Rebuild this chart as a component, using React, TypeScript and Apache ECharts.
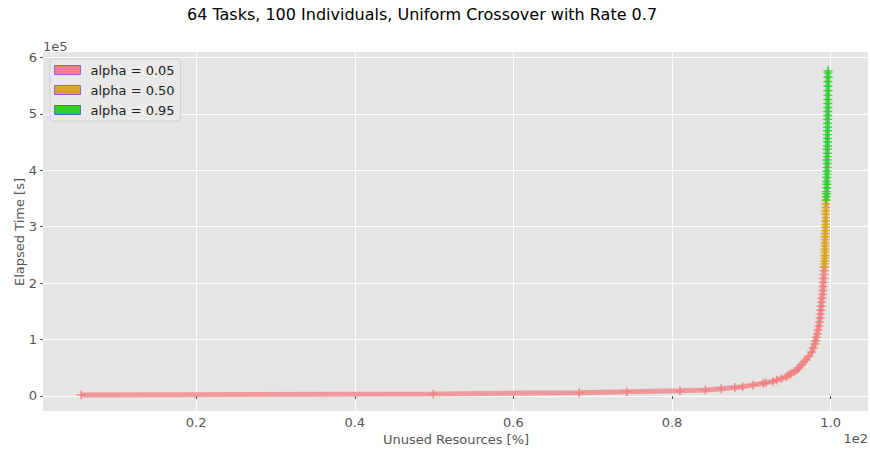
import React, { useEffect, useRef } from "react";
import * as echarts from "echarts";

const TITLE = "64 Tasks, 100 Individuals, Uniform Crossover with Rate 0.7";
const X_LABEL = "Unused Resources [%]";
const Y_LABEL = "Elapsed Time [s]";
const X_TICKS = [0.2, 0.4, 0.6, 0.8, 1.0];
const Y_TICKS = [0, 1, 2, 3, 4, 5, 6];
const SERIES_NAMES = ["alpha = 0.05", "alpha = 0.50", "alpha = 0.95"];
const SERIES_COLORS = ["#F08080", "#DAA520", "#32CD32"];
const LEGEND_EDGES = ["#9A5FCF", "#9A5FCF", "#4A6FD0"];

// values in units of 1e2 (x) and 1e5 (y), as displayed
const pinkX = [0.055, 0.499, 0.683, 0.743, 0.810, 0.842, 0.862, 0.879, 0.889, 0.902, 0.915, 0.918, 0.927, 0.932, 0.938, 0.944, 0.947, 0.950, 0.954, 0.957, 0.960, 0.963, 0.966, 0.969, 0.972, 0.976, 0.978, 0.980, 0.981, 0.982, 0.983, 0.984, 0.985, 0.986, 0.9865, 0.987, 0.9875, 0.988, 0.9885, 0.989, 0.9895, 0.990, 0.9903, 0.9906, 0.991, 0.9913, 0.9916, 0.992];
const pinkY = [0.018, 0.035, 0.058, 0.076, 0.094, 0.106, 0.13, 0.15, 0.165, 0.195, 0.225, 0.235, 0.254, 0.284, 0.31, 0.34, 0.37, 0.40, 0.43, 0.46, 0.50, 0.55, 0.60, 0.64, 0.70, 0.78, 0.85, 0.92, 0.98, 1.04, 1.10, 1.17, 1.24, 1.31, 1.38, 1.45, 1.52, 1.59, 1.66, 1.73, 1.80, 1.87, 1.94, 2.01, 2.08, 2.15, 2.22, 2.29];

const orangeX = [0.9920, 0.9921, 0.9923, 0.9924, 0.9925, 0.9926, 0.9927, 0.9928, 0.9929, 0.9930, 0.9931, 0.9932, 0.9933, 0.9934, 0.9935, 0.9935, 0.9936, 0.9937, 0.9938, 0.9939, 0.9940, 0.9941];
const orangeY = [2.29, 2.34, 2.39, 2.44, 2.49, 2.55, 2.60, 2.66, 2.71, 2.77, 2.82, 2.88, 2.93, 2.99, 3.04, 3.10, 3.16, 3.22, 3.28, 3.34, 3.40, 3.47];

const greenX = [0.9945, 0.9945, 0.9950, 0.9948, 0.9950, 0.9952, 0.9950, 0.9953, 0.9955, 0.9952, 0.9955, 0.9956, 0.9955, 0.9957, 0.9958, 0.9956, 0.9958, 0.9960, 0.9958, 0.9960, 0.9961, 0.9960, 0.9962, 0.9961, 0.9963, 0.9962, 0.9963, 0.9964, 0.9963, 0.9964, 0.9965, 0.9964, 0.9965, 0.9966, 0.9966, 0.9966];
const greenY = [3.47, 3.53, 3.58, 3.62, 3.69, 3.75, 3.80, 3.87, 3.93, 3.98, 4.05, 4.12, 4.18, 4.24, 4.30, 4.37, 4.43, 4.50, 4.56, 4.63, 4.70, 4.76, 4.83, 4.90, 4.97, 5.04, 5.11, 5.18, 5.25, 5.33, 5.41, 5.49, 5.57, 5.65, 5.72, 5.76];

const FONT = "DejaVu Sans";
const PLUS =
  "path://M-0.8,-5 L0.8,-5 L0.8,-0.8 L5,-0.8 L5,0.8 L0.8,0.8 L0.8,5 L-0.8,5 L-0.8,0.8 L-5,0.8 L-5,-0.8 L-0.8,-0.8 Z";

const zip = (xs: number[], ys: number[]) => xs.map((x, i) => [x, ys[i]]);

export default function App() {
  const ref = useRef<HTMLDivElement>(null);
  useEffect(() => {
    document.body.style.margin = "0";
    if (!ref.current) return;
    const chart = echarts.init(ref.current, null, { renderer: "svg" });
    const data = [zip(pinkX, pinkY), zip(orangeX, orangeY), zip(greenX, greenY)];
    chart.setOption({
      animation: false,
      backgroundColor: "#FFFFFF",
      grid: {
        left: 43,
        right: 2,
        top: 52,
        bottom: 39,
        show: true,
        backgroundColor: "#E5E5E5",
        borderWidth: 0,
      },
      xAxis: {
        type: "value",
        min: 0.007,
        max: 1.047,
        axisLine: { show: false },
        axisTick: { show: true, length: 3, lineStyle: { color: "#555555" }, customValues: X_TICKS },
        axisLabel: {
          customValues: X_TICKS,
          formatter: (v: number) => v.toFixed(1),
          color: "#555555",
          fontSize: 13,
          fontFamily: FONT,
          margin: 5,
        },
        splitLine: { show: true, lineStyle: { color: "#FFFFFF", width: 1 } },
      },
      yAxis: {
        type: "value",
        min: -0.266,
        max: 6.094,
        axisLine: { show: false },
        axisTick: { show: true, length: 3, lineStyle: { color: "#555555" }, customValues: Y_TICKS },
        axisLabel: {
          customValues: Y_TICKS,
          formatter: (v: number) => String(Math.round(v)),
          color: "#555555",
          fontSize: 13,
          fontFamily: FONT,
          margin: 6,
        },
        splitLine: { show: true, lineStyle: { color: "#FFFFFF", width: 1 } },
      },
      legend: {
        orient: "vertical",
        left: 50,
        top: 59,
        itemWidth: 26,
        itemHeight: 9,
        itemGap: 6,
        backgroundColor: "#E9E9E9",
        borderColor: "#D0D0D0",
        borderWidth: 1,
        borderRadius: 3,
        padding: [4, 6, 4, 4],
        selectedMode: false,
        textStyle: { fontSize: 13, fontFamily: FONT, color: "#222222", lineHeight: 14, padding: [0, 0, 0, 5] },
        data: SERIES_NAMES.map((n, i) => ({
          name: n,
          icon: "rect",
          itemStyle: { color: SERIES_COLORS[i], borderColor: LEGEND_EDGES[i], borderWidth: 1, opacity: 1 },
        })),
      },
      graphic: [
        {
          type: "text",
          x: 422,
          y: 14,
          style: { text: TITLE, fontSize: 16, fontFamily: FONT, fill: "#000000", align: "center", verticalAlign: "middle" },
        },
        {
          type: "text",
          x: 456,
          y: 439,
          style: { text: X_LABEL, fontSize: 13, fontFamily: FONT, fill: "#555555", align: "center", verticalAlign: "middle" },
        },
        {
          type: "text",
          x: 19,
          y: 232,
          rotation: Math.PI / 2,
          style: { text: Y_LABEL, fontSize: 13, fontFamily: FONT, fill: "#555555", align: "center", verticalAlign: "middle" },
        },
        {
          type: "text",
          x: 43,
          y: 46,
          style: { text: "1e5", fontSize: 13, fontFamily: FONT, fill: "#555555", align: "left", verticalAlign: "middle" },
        },
        {
          type: "text",
          x: 868,
          y: 438,
          style: { text: "1e2", fontSize: 13, fontFamily: FONT, fill: "#555555", align: "right", verticalAlign: "middle" },
        },
      ],
      series: SERIES_NAMES.map((n, i) => ({
        type: "line",
        name: n,
        data: data[i],
        symbol: PLUS,
        symbolSize: 9,
        showSymbol: true,
        lineStyle: { color: SERIES_COLORS[i], width: 5, opacity: 0.75 },
        itemStyle: { color: SERIES_COLORS[i], opacity: 0.9 },
        emphasis: { disabled: true },
        z: 2 + i,
      })),
    });
    return () => chart.dispose();
  }, []);
  return <div ref={ref} style={{ width: 870, height: 450 }} />;
}
